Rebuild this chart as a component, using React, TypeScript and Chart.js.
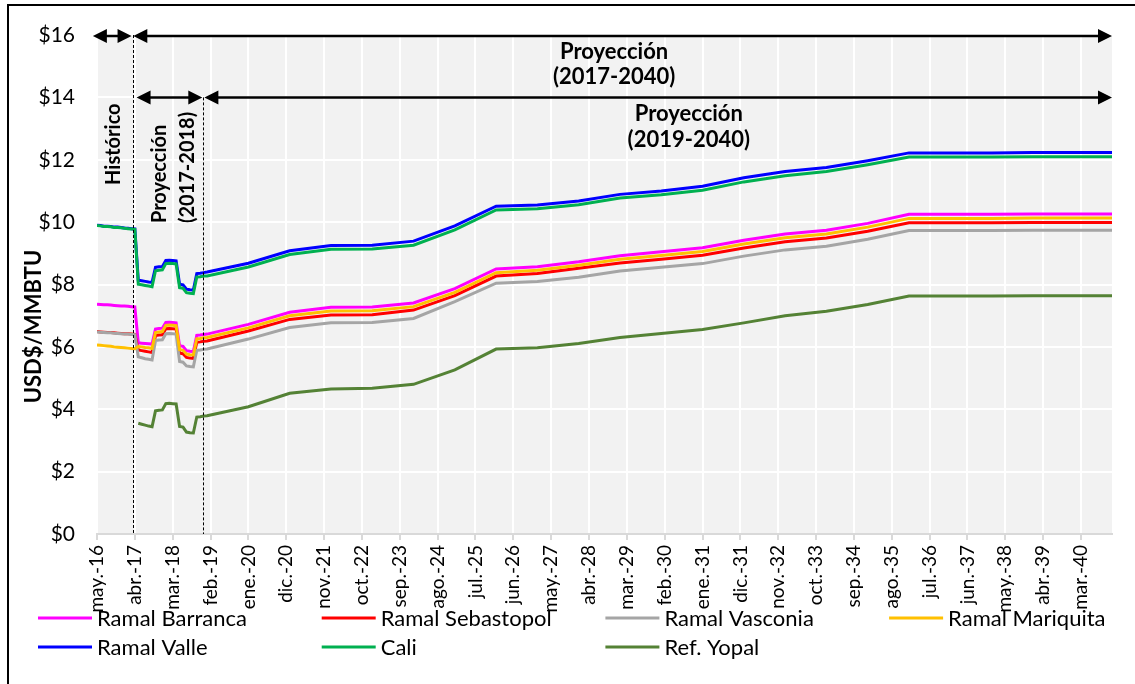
import React, { useEffect, useRef } from "react";
import { Chart, registerables } from "chart.js";

Chart.register(...registerables);

// Dates of each value: monthly history (may-16..abr-17), monthly short-term
// projection (may-17..dic-18), then January of each year 2019-2040 and dic-40.
const fechas = [
  "2016-05", "2016-06", "2016-07", "2016-08", "2016-09", "2016-10", "2016-11", "2016-12",
  "2017-01", "2017-02", "2017-03", "2017-04",
  "2017-05", "2017-06", "2017-07", "2017-08", "2017-09", "2017-10", "2017-11", "2017-12",
  "2018-01", "2018-02", "2018-03", "2018-04", "2018-05", "2018-06", "2018-07", "2018-08",
  "2018-09", "2018-10", "2018-11", "2018-12",
  "2019-01", "2020-01", "2021-01", "2022-01", "2023-01", "2024-01", "2025-01", "2026-01",
  "2027-01", "2028-01", "2029-01", "2030-01", "2031-01", "2032-01", "2033-01", "2034-01",
  "2035-01", "2036-01", "2037-01", "2038-01", "2039-01", "2040-01", "2040-12",
];

const tickLabels = [
  "may.-16", "abr.-17", "mar.-18", "feb.-19", "ene.-20", "dic.-20", "nov.-21", "oct.-22",
  "sep.-23", "ago.-24", "jul.-25", "jun.-26", "may.-27", "abr.-28", "mar.-29", "feb.-30",
  "ene.-31", "dic.-31", "nov.-32", "oct.-33", "sep.-34", "ago.-35", "jul.-36", "jun.-37",
  "may.-38", "abr.-39", "mar.-40",
];

const yTicks = [0, 2, 4, 6, 8, 10, 12, 14, 16];

// USD$/MMBTU
const ramalBarranca = [
  7.37, 7.36, 7.35, 7.35, 7.34, 7.33, 7.32, 7.31, 7.31, 7.30, 7.29, 7.28,
  6.13, 6.12, 6.11, 6.10, 6.09, 6.57, 6.59, 6.60, 6.78, 6.79, 6.78, 6.77, 6.04, 6.02, 5.88, 5.86, 5.85, 6.37, 6.38, 6.40,
  6.41, 6.72, 7.11, 7.27, 7.28, 7.41, 7.87, 8.50, 8.57, 8.73, 8.92, 9.05, 9.18, 9.42, 9.62, 9.74, 9.96, 10.25, 10.25, 10.25, 10.26, 10.26, 10.26,
];
const ramalSebastopol = [
  6.49, 6.48, 6.47, 6.46, 6.46, 6.45, 6.44, 6.43, 6.42, 6.42, 6.41, 6.40,
  5.90, 5.88, 5.86, 5.84, 5.82, 6.36, 6.38, 6.39, 6.58, 6.59, 6.58, 6.57, 5.80, 5.78, 5.66, 5.64, 5.63, 6.15, 6.16, 6.18,
  6.19, 6.51, 6.88, 7.02, 7.03, 7.18, 7.64, 8.27, 8.35, 8.52, 8.69, 8.81, 8.94, 9.17, 9.37, 9.49, 9.71, 9.98, 9.98, 9.98, 9.99, 9.99, 9.99,
];
const ramalVasconia = [
  6.48, 6.47, 6.46, 6.45, 6.45, 6.44, 6.43, 6.42, 6.41, 6.41, 6.40, 6.39,
  5.68, 5.65, 5.62, 5.60, 5.58, 6.20, 6.22, 6.23, 6.42, 6.43, 6.42, 6.41, 5.53, 5.51, 5.39, 5.37, 5.36, 5.89, 5.90, 5.92,
  5.93, 6.25, 6.62, 6.77, 6.78, 6.91, 7.45, 8.04, 8.10, 8.23, 8.43, 8.55, 8.67, 8.91, 9.11, 9.23, 9.45, 9.73, 9.73, 9.73, 9.74, 9.74, 9.74,
];
const ramalMariquita = [
  6.06, 6.05, 6.04, 6.03, 6.02, 6.00, 5.99, 5.98, 5.97, 5.96, 5.95, 5.94,
  6.01, 6.00, 5.98, 5.97, 5.95, 6.46, 6.48, 6.49, 6.69, 6.70, 6.69, 6.68, 5.91, 5.89, 5.77, 5.75, 5.74, 6.26, 6.27, 6.29,
  6.30, 6.61, 7.00, 7.15, 7.16, 7.29, 7.75, 8.38, 8.46, 8.62, 8.81, 8.93, 9.06, 9.30, 9.50, 9.62, 9.84, 10.12, 10.12, 10.12, 10.13, 10.13, 10.13,
];
const ramalValle = [
  9.90, 9.89, 9.87, 9.87, 9.86, 9.84, 9.84, 9.83, 9.81, 9.80, 9.79, 9.78,
  8.14, 8.12, 8.10, 8.08, 8.07, 8.55, 8.57, 8.58, 8.77, 8.78, 8.77, 8.76, 8.01, 7.99, 7.85, 7.83, 7.82, 8.35, 8.36, 8.38,
  8.40, 8.68, 9.08, 9.25, 9.26, 9.39, 9.88, 10.51, 10.55, 10.68, 10.89, 11.00, 11.15, 11.42, 11.62, 11.75, 11.97, 12.22, 12.22, 12.22, 12.23, 12.23, 12.23,
];
const cali = [
  9.89, 9.88, 9.86, 9.86, 9.85, 9.83, 9.83, 9.82, 9.80, 9.79, 9.78, 9.77,
  8.01, 7.99, 7.97, 7.95, 7.93, 8.44, 8.46, 8.47, 8.67, 8.68, 8.67, 8.66, 7.90, 7.88, 7.74, 7.72, 7.71, 8.24, 8.25, 8.27,
  8.27, 8.56, 8.96, 9.13, 9.14, 9.26, 9.75, 10.39, 10.43, 10.56, 10.77, 10.88, 11.02, 11.29, 11.49, 11.62, 11.84, 12.09, 12.09, 12.09, 12.10, 12.10, 12.10,
];
const refYopal = [
  null, null, null, null, null, null, null, null, null, null, null, null,
  3.55, 3.52, 3.49, 3.46, 3.44, 3.95, 3.97, 3.98, 4.18, 4.19, 4.18, 4.17, 3.45, 3.43, 3.27, 3.25, 3.24, 3.75, 3.76, 3.78,
  3.79, 4.08, 4.51, 4.65, 4.67, 4.80, 5.26, 5.93, 5.97, 6.11, 6.30, 6.43, 6.56, 6.77, 7.00, 7.14, 7.36, 7.63, 7.63, 7.63, 7.64, 7.64, 7.64,
];

const seriesNames = [
  "Ramal Barranca", "Ramal Sebastopol", "Ramal Vasconia", "Ramal Mariquita",
  "Ramal Valle", "Cali", "Ref. Yopal",
];
const seriesValues = [ramalBarranca, ramalSebastopol, ramalVasconia, ramalMariquita, ramalValle, cali, refYopal];
const seriesColors = ["#ff00ff", "#ff0000", "#a5a5a5", "#ffc000", "#0000ff", "#00b050", "#548235"];

const FONT = "Lato, 'Open Sans', sans-serif";
const MESES: Record<string, number> = {
  ene: 1, feb: 2, mar: 3, abr: 4, may: 5, jun: 6, jul: 7, ago: 8, sep: 9, oct: 10, nov: 11, dic: 12,
};

// months elapsed since may-2016
const monthFromDate = (f: string) => {
  const [y, m] = f.split("-").map(Number);
  return (y - 2016) * 12 + (m - 5);
};
const monthFromLabel = (l: string) => {
  const [mes, yy] = l.split(".-");
  return (2000 + Number(yy) - 2016) * 12 + (MESES[mes] - 5);
};

// period boundaries, in months since may-2016
const FIN_HISTORICO = 10.35;
const FIN_CORTO_PLAZO = 30.9;
const ULTIMO_MES = monthFromDate(fechas[fechas.length - 1]);

function drawArrow(ctx: CanvasRenderingContext2D, x1: number, x2: number, y: number) {
  const head = 14;
  const half = 7;
  ctx.beginPath();
  ctx.moveTo(x1 + head - 1, y);
  ctx.lineTo(x2 - head + 1, y);
  ctx.stroke();
  ctx.beginPath();
  ctx.moveTo(x1, y);
  ctx.lineTo(x1 + head, y - half);
  ctx.lineTo(x1 + head, y + half);
  ctx.closePath();
  ctx.fill();
  ctx.beginPath();
  ctx.moveTo(x2, y);
  ctx.lineTo(x2 - head, y - half);
  ctx.lineTo(x2 - head, y + half);
  ctx.closePath();
  ctx.fill();
}

const decorations = {
  id: "decorations",
  beforeDraw(chart: any) {
    const { ctx, chartArea: a } = chart;
    ctx.save();
    ctx.fillStyle = "#f2f2f2";
    ctx.fillRect(a.left, a.top, a.right - a.left, a.bottom - a.top);
    ctx.restore();
  },
  afterDraw(chart: any) {
    const { ctx } = chart;
    const xs = chart.scales.x;
    const ys = chart.scales.y;
    const px = (m: number) => xs.getPixelForValue(m);
    const py = (v: number) => ys.getPixelForValue(v);
    ctx.save();

    // outer frame
    ctx.strokeStyle = "#000";
    ctx.lineWidth = 2;
    ctx.beginPath();
    ctx.moveTo(8, 700);
    ctx.lineTo(8, 5);
    ctx.lineTo(1140, 5);
    ctx.stroke();

    // period separators
    ctx.lineWidth = 1;
    ctx.setLineDash([3, 2]);
    ctx.beginPath();
    ctx.moveTo(Math.round(px(FIN_HISTORICO)) + 0.5, py(16));
    ctx.lineTo(Math.round(px(FIN_HISTORICO)) + 0.5, py(0));
    ctx.moveTo(Math.round(px(FIN_CORTO_PLAZO)) + 0.5, py(14));
    ctx.lineTo(Math.round(px(FIN_CORTO_PLAZO)) + 0.5, py(0));
    ctx.stroke();
    ctx.setLineDash([]);

    // period arrows
    ctx.lineWidth = 2.5;
    ctx.fillStyle = "#000";
    const y16 = py(16) + 1;
    const y14 = py(14);
    drawArrow(ctx, px(-1.2), px(FIN_HISTORICO - 0.3), y16);
    drawArrow(ctx, px(FIN_HISTORICO + 0.2), px(ULTIMO_MES), y16);
    drawArrow(ctx, px(11.5), px(FIN_CORTO_PLAZO - 0.3), y14);
    drawArrow(ctx, px(FIN_CORTO_PLAZO + 0.3), px(ULTIMO_MES), y14);

    // period labels
    ctx.font = `bold 22px ${FONT}`;
    ctx.textAlign = "center";
    ctx.textBaseline = "middle";
    ctx.fillText("Proyección", px(150.3), py(15.45));
    ctx.fillText("(2017-2040)", px(150.3), py(14.65));
    ctx.fillText("Proyección", px(172), py(13.46));
    ctx.fillText("(2019-2040)", px(172), py(12.63));

    const vertical = (text: string, m: number, v: number, align: CanvasTextAlign) => {
      ctx.save();
      ctx.translate(px(m), py(v));
      ctx.rotate(-Math.PI / 2);
      ctx.textAlign = align;
      ctx.textBaseline = "middle";
      ctx.fillText(text, 0, 0);
      ctx.restore();
    };
    ctx.font = `bold 20px ${FONT}`;
    vertical("Histórico", 4.7, 12.5, "center");
    vertical("Proyección", 18.1, 9.97, "left");
    vertical("(2017-2018)", 26.3, 9.97, "left");

    // y axis title
    ctx.font = `bold 22px ${FONT}`;
    ctx.save();
    ctx.translate(34, (py(0) + py(16)) / 2 + 42);
    ctx.rotate(-Math.PI / 2);
    ctx.textAlign = "center";
    ctx.textBaseline = "middle";
    ctx.fillText("USD$/MMBTU", 0, 0);
    ctx.restore();

    // legend: four columns, two rows
    ctx.font = `22px ${FONT}`;
    ctx.textAlign = "left";
    ctx.textBaseline = "middle";
    seriesNames.forEach((name, i) => {
      const col = i % 4;
      const row = Math.floor(i / 4);
      const lx = 38 + col * 283.7;
      const ly = 618 + row * 29;
      ctx.strokeStyle = seriesColors[i];
      ctx.lineWidth = 3;
      ctx.beginPath();
      ctx.moveTo(lx, ly);
      ctx.lineTo(lx + 54, ly);
      ctx.stroke();
      ctx.fillStyle = "#000";
      ctx.fillText(name, lx + 59, ly + 1);
    });

    ctx.restore();
  },
};

export default function App() {
  const canvasRef = useRef<HTMLCanvasElement | null>(null);

  useEffect(() => {
    if (!canvasRef.current) return;
    const datasets = seriesNames.map((name, i) => ({
      label: name,
      data: fechas.map((f, j) => ({ x: monthFromDate(f), y: seriesValues[i][j] })),
      borderColor: seriesColors[i],
      backgroundColor: seriesColors[i],
      borderWidth: 3,
      pointRadius: 0,
      tension: 0,
      spanGaps: false,
      order: seriesNames.length - 1 - i,
    }));

    const chart = new Chart(canvasRef.current, {
      type: "line",
      data: { datasets },
      plugins: [decorations],
      options: {
        responsive: false,
        animation: false,
        events: [],
        layout: { padding: { left: 0, right: 23, top: 35, bottom: 0 } },
        plugins: { legend: { display: false }, tooltip: { enabled: false } },
        scales: {
          x: {
            type: "linear",
            min: 0,
            max: ULTIMO_MES,
            afterFit: (s: any) => { s.height = 150; },
            afterBuildTicks: (s: any) => {
              s.ticks = tickLabels.map((l) => ({ value: monthFromLabel(l) }));
            },
            grid: {
              color: "#ffffff",
              lineWidth: 2,
              tickColor: "#d9d9d9",
              tickLength: 6,
              drawTicks: true,
            },
            border: { color: "#d9d9d9", width: 2 },
            ticks: {
              autoSkip: false,
              minRotation: 90,
              maxRotation: 90,
              padding: 5,
              color: "#000",
              font: { family: FONT, size: 19 },
              callback: (_v: any, i: number) => tickLabels[i],
            },
          },
          y: {
            min: 0,
            max: 16,
            afterFit: (s: any) => { s.width = 97; },
            afterBuildTicks: (s: any) => {
              s.ticks = yTicks.map((v) => ({ value: v }));
            },
            grid: { color: "#ffffff", lineWidth: 2, drawTicks: false },
            border: { display: false },
            ticks: {
              padding: 22,
              color: "#000",
              font: { family: FONT, size: 21 },
              callback: (v: any) => "$" + v,
            },
          },
        },
      },
    });
    return () => chart.destroy();
  }, []);

  return (
    <div style={{ position: "absolute", left: 0, top: 0, width: 1135, height: 684, background: "#fff", overflow: "hidden" }}>
      <canvas ref={canvasRef} width={1135} height={684} />
    </div>
  );
}
